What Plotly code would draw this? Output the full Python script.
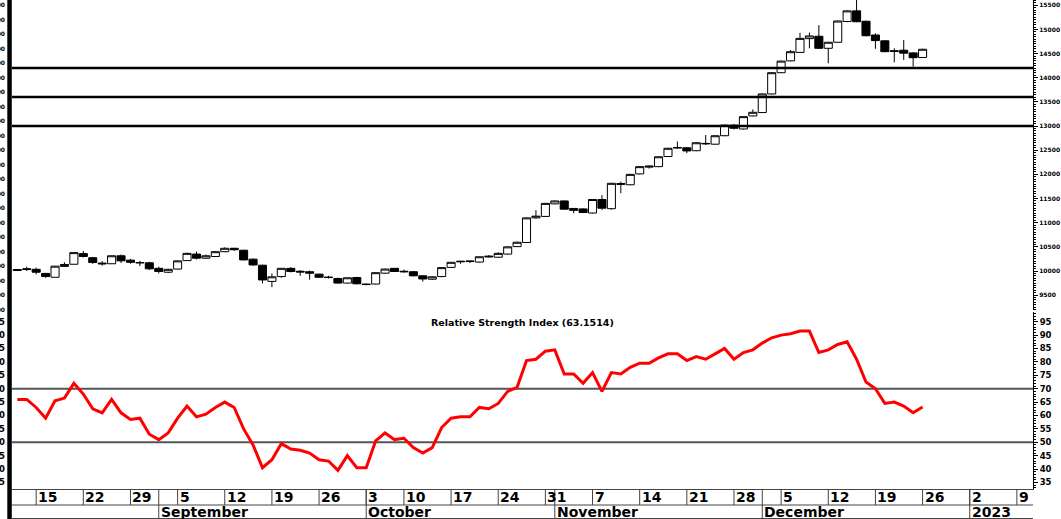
import pandas as pd
import plotly.graph_objects as go

# ---------------- data ----------------
holidays = ["2022-10-03"]
calendar = [d for d in pd.bdate_range("2022-08-11", "2023-01-13")
            if d.strftime("%Y-%m-%d") not in holidays]

opens = [10010, 10030, 10035, 9950, 9870, 10095, 10140, 10360, 10275, 10145,
         10150, 10315, 10225, 10175, 10170, 10055, 9975, 10040, 10215, 10350,
         10265, 10300, 10400, 10470, 10430, 10245, 10120, 9785, 9885, 10055,
         9995, 9985, 9935, 9875, 9845, 9750, 9865, 9730, 9730, 9955,
         10055, 9995, 9985, 9900, 9830, 9885, 10075, 10190, 10195, 10185,
         10290, 10285, 10350, 10505, 10590, 11100, 11130, 11390, 11450, 11295,
         11285, 11200, 11480, 11290, 11790, 11785, 12010, 12150, 12160, 12370,
         12545, 12550, 12490, 12630, 12625, 12800, 13020, 12940, 13210, 13280,
         13665, 14105, 14350, 14525, 14810, 14860, 14610, 14735, 15165, 15385,
         15170, 14885, 14765, 14560, 14570, 14515, 14420]
highs = [10040, 10090, 10070, 9960, 10105, 10180, 10385, 10415, 10290, 10205,
         10320, 10340, 10250, 10210, 10190, 10090, 10045, 10220, 10380, 10400,
         10340, 10410, 10490, 10480, 10440, 10260, 10130, 9950, 10060, 10080,
         10020, 10010, 9945, 9900, 9860, 9865, 9880, 9740, 9975, 10050,
         10060, 10030, 10000, 9915, 9890, 10075, 10185, 10215, 10210, 10300,
         10330, 10390, 10510, 10610, 11110, 11260, 11410, 11460, 11460, 11305,
         11300, 11490, 11570, 11825, 11850, 12010, 12170, 12180, 12375, 12550,
         12680, 12560, 12665, 12815, 12810, 13030, 13040, 13200, 13345, 13675,
         14115, 14355, 14575, 14930, 14935, 15090, 14745, 15185, 15395, 15620,
         15180, 14920, 14775, 14610, 14780, 14525, 14600]
lows = [10000, 10000, 9930, 9860, 9865, 10085, 10135, 10280, 10150, 10110,
        10145, 10165, 10150, 10100, 10020, 9950, 9955, 10030, 10210, 10240,
        10250, 10290, 10390, 10420, 10220, 10110, 9745, 9665, 9860, 9970,
        9900, 9820, 9860, 9845, 9735, 9740, 9725, 9705, 9720, 9945,
        9980, 9965, 9890, 9780, 9815, 9870, 10065, 10150, 10165, 10175,
        10280, 10275, 10340, 10495, 10580, 11080, 11120, 11380, 11270, 11195,
        11200, 11190, 11265, 11270, 11610, 11775, 12000, 12120, 12150, 12360,
        12535, 12440, 12480, 12610, 12615, 12790, 12930, 12930, 13200, 13270,
        13655, 14095, 14340, 14515, 14610, 14600, 14300, 14725, 15150, 15150,
        14860, 14600, 14530, 14320, 14370, 14230, 14410]
closes = [10030, 10045, 9975, 9885, 10100, 10135, 10380, 10300, 10175, 10160,
          10315, 10210, 10180, 10170, 10045, 9990, 10035, 10210, 10365, 10265,
          10315, 10400, 10470, 10440, 10230, 10125, 9815, 9880, 10055, 9990,
          9980, 9955, 9870, 9865, 9750, 9860, 9735, 9720, 9965, 10040,
          9990, 9985, 9900, 9835, 9880, 10070, 10180, 10200, 10205, 10295,
          10305, 10365, 10500, 10595, 11100, 11135, 11400, 11450, 11280, 11255,
          11210, 11480, 11300, 11815, 11810, 12000, 12160, 12170, 12365, 12540,
          12555, 12485, 12655, 12640, 12800, 13020, 12955, 13195, 13285, 13665,
          14105, 14345, 14540, 14815, 14865, 14610, 14735, 15175, 15385, 15160,
          14870, 14770, 14540, 14545, 14510, 14415, 14590]
rsi = [66, 66, 63, 59, 65.5, 66.5, 72, 68, 62.5, 61,
       66, 61, 58.5, 59, 53, 51, 53.5, 59, 63.5, 59.5,
       60.5, 63, 65, 63, 55, 49, 40.5, 43.5, 49.5, 47.5,
       47, 46, 43.5, 43, 39.5, 45, 40.5, 40.5, 50.5, 53.5,
       51, 51.5, 48, 46, 48, 55.5, 59, 59.5, 59.5, 63,
       62.5, 64.5, 69, 70.5, 80.5, 81, 84, 84.5, 75.5, 75.5,
       72, 76, 69, 76, 75.5, 78, 79.5, 79.5, 81.5, 83,
       83, 80.5, 82, 81, 83, 85, 81, 83.5, 84.5, 87,
       89, 90, 90.5, 91.5, 91.5, 83.5, 84.5, 86.5, 87.5, 81,
       72.5, 70, 64.5, 65, 63.5, 61, 63.15]
levels = [14200, 13600, 13000]
rsi_bands = [70, 50]
rsi_title = "Relative Strength Index (63.1514)"
month_names = {9: "September", 10: "October", 11: "November", 12: "December", 1: "2023"}

n = len(closes)
idx = list(range(n))

# weekly ticks (first trading day of each week, labelled with the Monday date)
week_ticks = []
for monday in pd.date_range("2022-08-15", "2023-01-09", freq="W-MON"):
    for i, d in enumerate(calendar):
        if monday <= d < monday + pd.Timedelta(days=7):
            week_ticks.append((i, str(monday.day)))
            break
# month starts
month_ticks = []
for i, d in enumerate(calendar):
    if i > 0 and d.month != calendar[i - 1].month and d.month in month_names:
        month_ticks.append((i, month_names[d.month]))

# ---------------- figure ----------------
W, H = 1061, 519
ML, MR, MT, MB = 12, 28, 0, 30
PH = H - MT - MB
PW = W - ML - MR
FONT = "DejaVu Sans"

fig = go.Figure()
fig.add_trace(go.Candlestick(
    x=idx, open=opens, high=highs, low=lows, close=closes,
    increasing=dict(fillcolor="white", line=dict(color="black", width=1)),
    decreasing=dict(fillcolor="black", line=dict(color="black", width=1)),
    whiskerwidth=0, xaxis="x", yaxis="y", showlegend=False, hoverinfo="skip"))
fig.add_trace(go.Scatter(
    x=idx, y=rsi, mode="lines", line=dict(color="#ff0000", width=3),
    xaxis="x", yaxis="y2", showlegend=False, hoverinfo="skip"))
fig.add_trace(go.Scatter(x=[None], y=[None], xaxis="x", yaxis="y3",
                         showlegend=False, hoverinfo="skip"))
fig.add_trace(go.Scatter(x=[None], y=[None], xaxis="x", yaxis="y4",
                         showlegend=False, hoverinfo="skip"))

price_range = [9192.7, 15609.7]
rsi_range = [32.57, 98.62]
price_dom = [(PH - 310) / PH, 1]
rsi_dom = [0, (PH - 312) / PH]

tickfont_small = dict(family=FONT, size=6, color="black", weight="bold")
tickfont_rsi = dict(family=FONT, size=8.5, color="black", weight="bold")

fig.update_layout(
    width=W, height=H,
    margin=dict(l=ML, r=MR, t=MT, b=MB, pad=0, autoexpand=False),
    paper_bgcolor="white", plot_bgcolor="white",
    showlegend=False, boxgap=0.1, boxgroupgap=0.05,
    xaxis=dict(domain=[0, 1], anchor="y2", range=[-0.562, 107.71], automargin=False,
               showgrid=False, zeroline=False, showticklabels=False, ticks="",
               showline=True, linecolor="#444", linewidth=1,
               rangeslider=dict(visible=False)),
    yaxis=dict(domain=price_dom, range=price_range, side="right", anchor="x", automargin=False,
               showgrid=False, zeroline=False, tickmode="linear", tick0=9500, dtick=500,
               tickformat="d", ticks="outside", ticklen=4, tickcolor="black", tickwidth=1,
               minor=dict(dtick=50, ticks="outside", ticklen=2, tickcolor="black"),
               tickfont=tickfont_small, showline=True, linecolor="black", linewidth=1),
    yaxis2=dict(domain=rsi_dom, range=rsi_range, side="right", anchor="x", automargin=False,
                showgrid=False, zeroline=False, tickmode="linear", tick0=35, dtick=5,
                tickformat="d", ticks="outside", ticklen=4, tickcolor="black", tickwidth=1,
                minor=dict(dtick=1, ticks="outside", ticklen=2, tickcolor="black"),
                tickfont=tickfont_rsi, showline=True, linecolor="black", linewidth=1),
    yaxis3=dict(overlaying="y", side="left", range=price_range, anchor="x", automargin=False,
                showgrid=False, zeroline=False, tickmode="linear", tick0=9500, dtick=300,
                tickformat="d", ticks="", tickfont=tickfont_small, ticklabelstandoff=6,
                showline=False),
    yaxis4=dict(overlaying="y2", side="left", range=rsi_range, anchor="x", automargin=False,
                showgrid=False, zeroline=False, tickmode="linear", tick0=35, dtick=5,
                tickformat="d", ticks="", tickfont=tickfont_rsi, ticklabelstandoff=6,
                showline=False),
)

shapes = []
for lv in levels:
    shapes.append(dict(type="line", xref="paper", x0=0, x1=1, yref="y", y0=lv, y1=lv,
                       line=dict(color="black", width=2.5), layer="above"))
for b in rsi_bands:
    shapes.append(dict(type="line", xref="paper", x0=0, x1=1, yref="y2", y0=b, y1=b,
                       line=dict(color="#555555", width=2), layer="below"))

row1 = -16 / PH
row2 = -30 / PH
shapes.append(dict(type="line", xref="paper", x0=0, x1=1, yref="paper", y0=row1, y1=row1,
                   line=dict(color="#444", width=1)))
shapes.append(dict(type="line", xref="paper", x0=0, x1=1, yref="paper", y0=row2 + 0.001,
                   y1=row2 + 0.001, line=dict(color="#444", width=1)))
for i, lab in week_ticks:
    shapes.append(dict(type="line", xref="x", x0=i, x1=i, yref="paper", y0=0, y1=row1,
                       line=dict(color="#444", width=1)))
for i, lab in month_ticks:
    shapes.append(dict(type="line", xref="x", x0=i, x1=i, yref="paper", y0=0, y1=row2,
                       line=dict(color="#444", width=1)))
# thick left frame bar
shapes.append(dict(type="rect", xref="paper", x0=(7.3 - ML) / PW, x1=(11.8 - ML) / PW,
                   yref="paper", y0=row2, y1=1, fillcolor="black", line=dict(width=0)))
fig.update_layout(shapes=shapes)

ann = []
datefont = dict(family=FONT, size=14, color="black", weight="bold")
for i, lab in week_ticks:
    ann.append(dict(x=i, xref="x", y=-8 / PH, yref="paper", text=lab, showarrow=False,
                    xanchor="left", yanchor="middle", xshift=0, font=datefont))
for i, lab in month_ticks:
    ann.append(dict(x=i, xref="x", y=-23 / PH, yref="paper", text=lab, showarrow=False,
                    xanchor="left", yanchor="middle", xshift=0, font=datefont))
ann.append(dict(x=0.5, xref="paper", y=(PH - 322) / PH, yref="paper", text=rsi_title,
                showarrow=False, xanchor="center", yanchor="middle",
                font=dict(family=FONT, size=9.5, color="black", weight="bold")))
fig.update_layout(annotations=ann)

fig.write_html("out.html", config={"displayModeBar": False},
               post_script="document.body.style.margin='0';document.body.style.overflow='hidden';")
